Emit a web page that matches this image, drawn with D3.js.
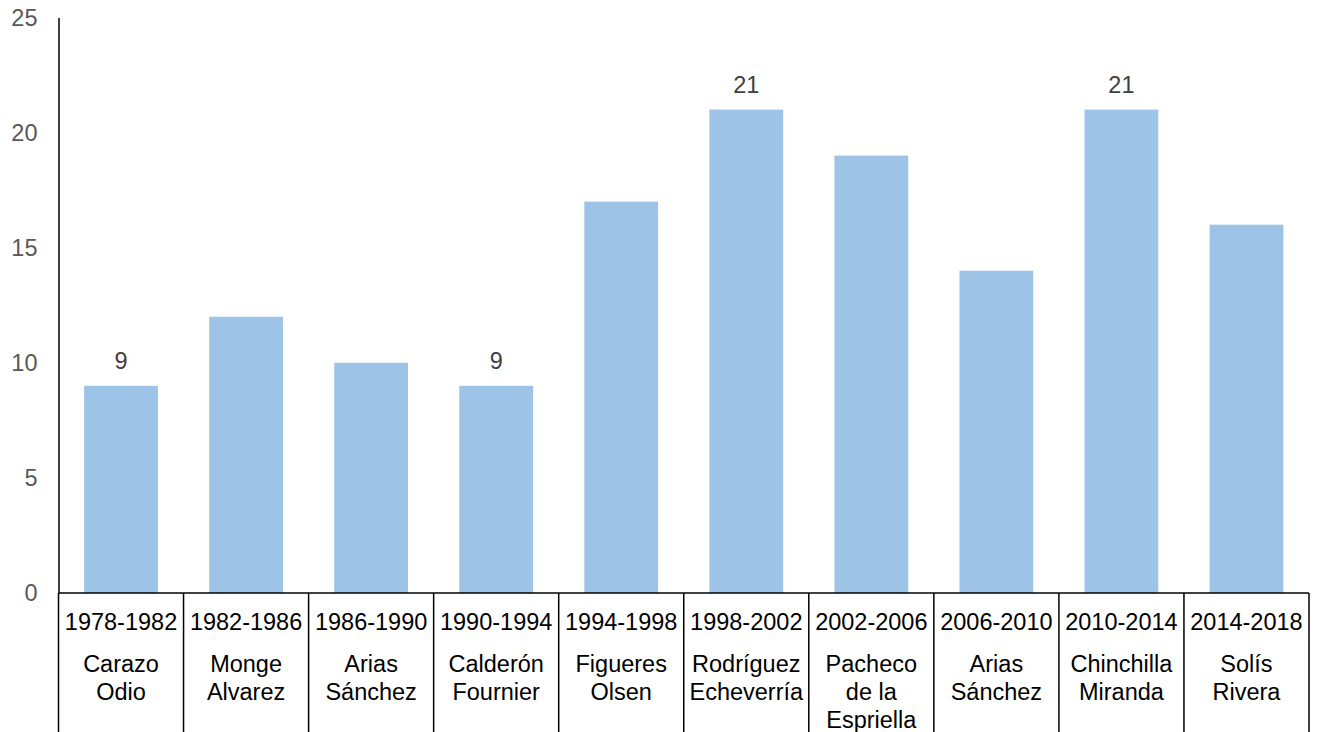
<!DOCTYPE html>
<html>
<head>
<meta charset="utf-8">
<script src="https://cdn.jsdelivr.net/npm/d3@7"></script>
<style>
  html, body { margin: 0; padding: 0; background: #fff; }
  svg { display: block; font-family: "Liberation Sans", Arial, sans-serif; }
</style>
</head>
<body>
<svg id="chart" width="1318" height="732"></svg>
<script>
// Terms of government (years and president)
const periods = ["1978-1982", "1982-1986", "1986-1990", "1990-1994", "1994-1998",
                 "1998-2002", "2002-2006", "2006-2010", "2010-2014", "2014-2018"];
const presidents = [
  ["Carazo", "Odio"], ["Monge", "Alvarez"], ["Arias", "Sánchez"], ["Calderón", "Fournier"],
  ["Figueres", "Olsen"], ["Rodríguez", "Echeverría"], ["Pacheco", "de la", "Espriella"],
  ["Arias", "Sánchez"], ["Chinchilla", "Miranda"], ["Solís", "Rivera"]
];
const values = [9, 12, 10, 9, 17, 21, 19, 14, 21, 16];
// Bars whose value is printed above them
const labelled = [true, false, false, true, false, true, false, false, true, false];
const yTicks = [0, 5, 10, 15, 20, 25];

const svg = d3.select("#chart");
const plotLeft = 58.5, plotRight = 1309, plotTop = 17.5, zeroY = 593;
const fs = 23.5;

const x = d3.scaleBand().domain(periods).range([plotLeft, plotRight])
  .paddingInner(0.41).paddingOuter(0.205);
const xs = d3.scaleBand().domain(periods).range([plotLeft, plotRight]).padding(0);
const y = d3.scaleLinear().domain([0, 25]).range([zeroY, plotTop]);

// Bars
svg.append("g").selectAll("rect").data(values).join("rect")
  .attr("x", (d, i) => x(periods[i]))
  .attr("width", x.bandwidth())
  .attr("y", d => y(d))
  .attr("height", d => y(0) - y(d))
  .attr("fill", "#9DC3E6");

// Data labels
svg.append("g").selectAll("text").data(values.map((v, i) => ({v, i})).filter(d => labelled[d.i]))
  .join("text")
  .attr("x", d => x(periods[d.i]) + x.bandwidth() / 2)
  .attr("y", d => y(d.v) - 17)
  .attr("text-anchor", "middle")
  .attr("font-size", fs)
  .attr("fill", "#404040")
  .text(d => d.v);

// Y axis
const yAxis = d3.axisLeft(y).tickValues(yTicks).tickSize(0).tickPadding(21);
const gy = svg.append("g").attr("transform", `translate(${plotLeft},0)`).call(yAxis);
gy.select(".domain").attr("stroke", "#000").attr("stroke-width", 1.5);
gy.selectAll("text").attr("font-size", fs).attr("fill", "#595959")
  .attr("font-family", "Liberation Sans, Arial, sans-serif");

// Category axis with boxed groups
const gx = svg.append("g");
gx.append("line").attr("x1", plotLeft).attr("x2", plotRight).attr("y1", zeroY).attr("y2", zeroY)
  .attr("stroke", "#000").attr("stroke-width", 1.5);
const edges = periods.map(p => xs(p)).concat([plotRight]);
gx.selectAll("line.div").data(edges).join("line").attr("class", "div")
  .attr("x1", d => d).attr("x2", d => d)
  .attr("y1", zeroY).attr("y2", 732)
  .attr("stroke", "#000").attr("stroke-width", 1.5);

gx.selectAll("text.period").data(periods).join("text").attr("class", "period")
  .attr("x", d => xs(d) + xs.bandwidth() / 2)
  .attr("y", 630)
  .attr("text-anchor", "middle")
  .attr("font-size", fs)
  .attr("fill", "#000")
  .text(d => d);

const names = gx.selectAll("text.name").data(presidents).join("text").attr("class", "name")
  .attr("text-anchor", "middle")
  .attr("font-size", fs)
  .attr("fill", "#000");
names.each(function(lines, i) {
  const cx = xs(periods[i]) + xs.bandwidth() / 2;
  d3.select(this).selectAll("tspan").data(lines).join("tspan")
    .attr("x", cx)
    .attr("y", (d, j) => 672 + j * 28)
    .text(d => d);
});
</script>
</body>
</html>
